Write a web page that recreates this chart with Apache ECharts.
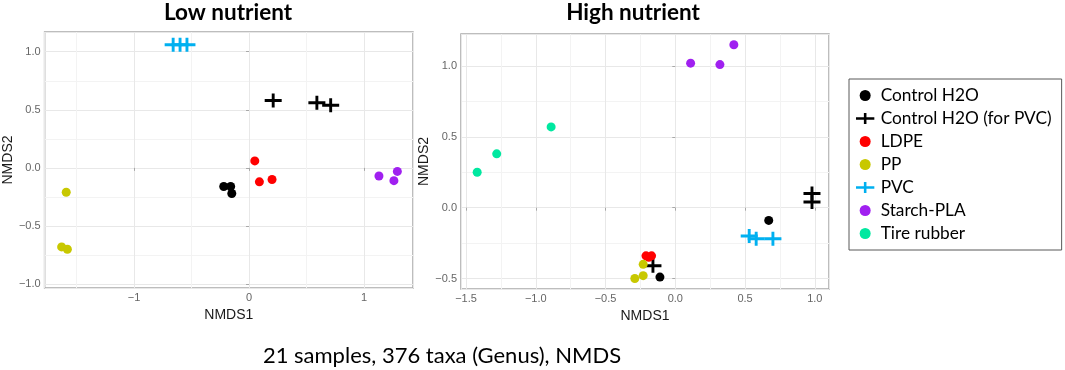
<!DOCTYPE html>
<html>
<head>
<meta charset="utf-8">
<script src="https://cdn.jsdelivr.net/npm/echarts@6/dist/echarts.min.js"></script>
<style>
html,body{margin:0;padding:0;background:#fff;}
#chart{width:1065px;height:370px;}
</style>
</head>
<body>
<div id="chart"></div>
<script>
// groups, in legend order
var groups = ['Control H2O', 'Control H2O (for PVC)', 'LDPE', 'PP', 'PVC', 'Starch-PLA', 'Tire rubber'];
var groupColors = ['#000000', '#000000', '#ff0000', '#c8c800', '#00b0f0', '#a020f0', '#00e8a0'];

// Low nutrient: [NMDS1, NMDS2]
var lowControl    = [[-0.22, -0.16], [-0.16, -0.16], [-0.15, -0.22]];
var lowControlPVC = [[0.21, 0.58], [0.59, 0.56], [0.71, 0.54]];
var lowLDPE       = [[0.05, 0.06], [0.09, -0.12], [0.20, -0.10]];
var lowPP         = [[-1.59, -0.21], [-1.63, -0.68], [-1.58, -0.70]];
var lowPVC        = [[-0.66, 1.06], [-0.60, 1.06], [-0.54, 1.06]];
var lowStarch     = [[1.13, -0.07], [1.29, -0.03], [1.26, -0.11]];
var lowTire       = [];

// High nutrient
var highControl    = [[0.67, -0.09], [-0.11, -0.49]];
var highControlPVC = [[0.98, 0.10], [0.98, 0.04], [-0.16, -0.41]];
var highLDPE       = [[-0.21, -0.34], [-0.17, -0.34], [-0.19, -0.35]];
var highPP         = [[-0.23, -0.40], [-0.23, -0.48], [-0.29, -0.50]];
var highPVC        = [[0.53, -0.20], [0.58, -0.22], [0.70, -0.22]];
var highStarch     = [[0.11, 1.02], [0.32, 1.01], [0.42, 1.15]];
var highTire       = [[-1.42, 0.25], [-1.28, 0.38], [-0.89, 0.57]];

var lowData = [lowControl, lowControlPVC, lowLDPE, lowPP, lowPVC, lowStarch, lowTire];
var highData = [highControl, highControlPVC, highLDPE, highPP, highPVC, highStarch, highTire];
var isCross = [false, true, false, false, true, false, false];

var crossPath = 'path://M8.3,0H11.7V6.3H20V9.7H11.7V16H8.3V9.7H0V6.3H8.3Z';
var legendCross = 'path://M8.6,0H11.4V4.6H20V7.4H11.4V12H8.6V7.4H0V4.6H8.6Z';

function minus(s){ return s.replace('-', '\u2212'); }
function fmt1(v){ return minus(v.toFixed(1)); }
function fmt0(v){ return minus(String(Math.round(v))); }

function makeX(idx, min, max, split, fmt){
    return {
        gridIndex: idx, type: 'value', min: min, max: max, splitNumber: split,
        name: 'NMDS1', nameLocation: 'middle', nameGap: 12,
        nameTextStyle: {color: '#1a1a1a', fontSize: 14, fontFamily: 'Liberation Sans'},
        axisLine: {show: false},
        axisTick: {show: true, length: 3, lineStyle: {color: '#a8a8a8'}},
        axisLabel: {color: '#666', fontSize: 11, margin: 4, showMinLabel: false, showMaxLabel: false,
                    fontFamily: 'Liberation Sans', formatter: fmt},
        splitLine: {show: true, lineStyle: {color: '#e8e8e8', width: 1}},
        minorTick: {show: false, splitNumber: 2},
        minorSplitLine: {show: true, lineStyle: {color: '#f3f3f3', width: 1}}
    };
}
function makeY(idx, min, max, split, gap){
    return {
        gridIndex: idx, type: 'value', min: min, max: max, splitNumber: split,
        name: 'NMDS2', nameLocation: 'middle', nameGap: gap, nameRotate: 90,
        nameTextStyle: {color: '#1a1a1a', fontSize: 14, fontFamily: 'Liberation Sans'},
        axisLine: {show: false},
        axisTick: {show: true, length: 3, lineStyle: {color: '#a8a8a8'}},
        axisLabel: {color: '#666', fontSize: 11, margin: 4, showMinLabel: false, showMaxLabel: false,
                    fontFamily: 'Liberation Sans', formatter: fmt1},
        splitLine: {show: true, lineStyle: {color: '#e8e8e8', width: 1}},
        minorTick: {show: false, splitNumber: 2},
        minorSplitLine: {show: true, lineStyle: {color: '#f3f3f3', width: 1}}
    };
}

var series = [];
[lowData, highData].forEach(function(panel, p){
    for (var i = 0; i < groups.length; i++) {
        series.push({
            name: groups[i],
            type: 'scatter',
            xAxisIndex: p, yAxisIndex: p,
            symbol: isCross[i] ? crossPath : 'circle',
            symbolSize: isCross[i] ? [17, 14] : 9,
            itemStyle: {color: groupColors[i], opacity: 1},
            emphasis: {disabled: true},
            data: panel[i]
        });
    }
});

var legendData = groups.map(function(g, i){
    return {name: g, icon: isCross[i] ? legendCross : 'circle'};
});

var chart = echarts.init(document.getElementById('chart'), null, {renderer: 'canvas'});
chart.setOption({
    animation: false,
    backgroundColor: '#fff',
    title: [
        {text: 'Low nutrient', left: 228, top: 1, textAlign: 'center', padding: 0,
         textStyle: {fontSize: 22.5, fontWeight: 'bold', color: '#000', fontFamily: 'Lato'}},
        {text: 'High nutrient', left: 633, top: 1, textAlign: 'center', padding: 0,
         textStyle: {fontSize: 22.5, fontWeight: 'bold', color: '#000', fontFamily: 'Lato'}},
        {text: '21 samples, 376 taxa (Genus), NMDS', left: 442, top: 345, textAlign: 'center', padding: 0,
         textStyle: {fontSize: 22, fontWeight: 'normal', color: '#000', fontFamily: 'Lato'}}
    ],
    grid: [
        {left: 43, top: 32, width: 370, height: 256, show: true, borderColor: '#a8a8a8', borderWidth: 1.5, backgroundColor: '#fff'},
        {left: 461, top: 34, width: 368, height: 255, show: true, borderColor: '#a8a8a8', borderWidth: 1.5, backgroundColor: '#fff'}
    ],
    xAxis: [
        makeX(0, -1.778, 1.426, 3, fmt0),
        makeX(1, -1.536, 1.102, 5, fmt1)
    ],
    yAxis: [
        makeY(0, -1.034, 1.17, 4, 23),
        makeY(1, -0.574, 1.226, 4, 24)
    ],
    legend: {
        orient: 'vertical', left: 849, top: 79,
        padding: [8, 10, 8, 7],
        borderColor: '#595959', borderWidth: 1,
        itemWidth: 21, itemHeight: 11, itemGap: 6,
        selectedMode: false,
        textStyle: {fontSize: 17.3, lineHeight: 16, color: '#000', fontFamily: 'Lato'},
        data: legendData
    },
    series: series
});
</script>
</body>
</html>
